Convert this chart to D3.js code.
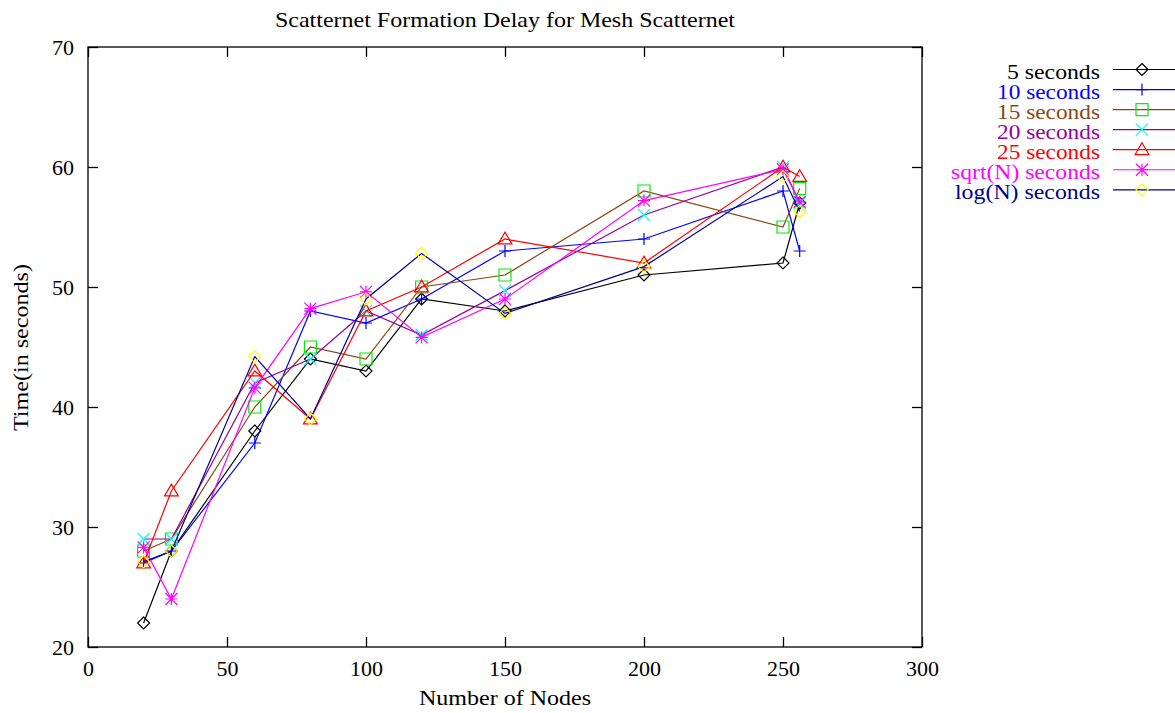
<!DOCTYPE html>
<html>
<head>
<meta charset="utf-8">
<script src="https://cdn.jsdelivr.net/npm/d3@7"></script>
<style>
  html, body { margin: 0; padding: 0; background: #fff; }
  svg { display: block; font-family: "Liberation Serif", "Times New Roman", serif; }
</style>
</head>
<body>
<svg id="chart" width="1175" height="713"></svg>
<script>
const title = "Scatternet Formation Delay for Mesh Scatternet";
const xLabel = "Number of Nodes";
const yLabel = "Time(in seconds)";
const nodes = [20, 30, 60, 80, 100, 120, 150, 200, 250, 256];
const xTicks = [0, 50, 100, 150, 200, 250, 300];
const yTicks = [20, 30, 40, 50, 60, 70];
const seriesNames = ["5 seconds", "10 seconds", "15 seconds", "20 seconds", "25 seconds", "sqrt(N) seconds", "log(N) seconds"];
const s5    = [22, 28, 38, 44, 43, 49, 48, 51, 52, 57];
const s10   = [27, 28, 37, 48, 47, 49, 53, 54, 58, 53];
const s15   = [28, 29, 40, 45, 44, 50, 51, 58, 55, 58.2];
const s20   = [29, 29, 42, 44, 48, 46, 49.7, 56, 60, 57];
const s25   = [27, 33, 43, 39, 48, 50, 54, 52, 60, 59.2];
const sSqrt = [28.3, 24, 41.6, 48.2, 49.6, 45.8, 49, 57.2, 59.8, 57.1];
const sLog  = [27.1, 28, 44.2, 39, 49, 52.8, 47.8, 51.7, 59.2, 56.3];
const seriesValues = [s5, s10, s15, s20, s25, sSqrt, sLog];
const lineColors  = ["#000000", "#0000ff", "#8b4513", "#9400a0", "#ff0000", "#ff00ff", "#000090"];
const pointColors = ["#000000", "#0000ff", "#00ee00", "#00ffff", "#ff0000", "#ff00ff", "#ffff00"];
const pointTypes  = ["diamond", "plus", "square", "cross", "triangle", "star", "diamond"];

const svg = d3.select("#chart");
const L = 88, R = 922, T = 47, B = 647;
const x = d3.scaleLinear().domain([0, 300]).range([L, R]);
const y = d3.scaleLinear().domain([20, 70]).range([B, T]);
const font = "Liberation Serif, Times New Roman, serif";

function fitText(sel, w) {
  sel.attr("textLength", w).attr("lengthAdjust", "spacingAndGlyphs");
  return sel;
}

function markerPath(type, s) {
  const p = d3.path();
  if (type === "diamond") {
    p.moveTo(0, -s); p.lineTo(s, 0); p.lineTo(0, s); p.lineTo(-s, 0); p.closePath();
  } else if (type === "plus") {
    p.moveTo(-s, 0); p.lineTo(s, 0); p.moveTo(0, -s); p.lineTo(0, s);
  } else if (type === "square") {
    p.rect(-s, -s, 2 * s, 2 * s);
  } else if (type === "cross") {
    p.moveTo(-s, -s); p.lineTo(s, s); p.moveTo(-s, s); p.lineTo(s, -s);
  } else if (type === "triangle") {
    const h = s * 1.15;
    p.moveTo(0, -h); p.lineTo(h, h * 0.7); p.lineTo(-h, h * 0.7); p.closePath();
  } else if (type === "star") {
    p.moveTo(-s, 0); p.lineTo(s, 0); p.moveTo(0, -s); p.lineTo(0, s);
    p.moveTo(-s, -s); p.lineTo(s, s); p.moveTo(-s, s); p.lineTo(s, -s);
  }
  return p.toString();
}

// frame
svg.append("rect").attr("x", L).attr("y", T).attr("width", R - L).attr("height", B - T)
  .attr("fill", "none").attr("stroke", "#000").attr("stroke-width", 1.3);

// axes (ticks inward, mirrored)
const ax = svg.append("g").attr("transform", `translate(0,${B})`)
  .call(d3.axisBottom(x).tickValues(xTicks).tickSizeInner(-10).tickSizeOuter(0).tickPadding(13));
const axTop = svg.append("g").attr("transform", `translate(0,${T})`)
  .call(d3.axisTop(x).tickValues(xTicks).tickSizeInner(-10).tickSizeOuter(0).tickFormat(""));
const ay = svg.append("g").attr("transform", `translate(${L},0)`)
  .call(d3.axisLeft(y).tickValues(yTicks).tickSizeInner(-10).tickSizeOuter(0).tickPadding(14));
const ayR = svg.append("g").attr("transform", `translate(${R},0)`)
  .call(d3.axisRight(y).tickValues(yTicks).tickSizeInner(-10).tickSizeOuter(0).tickFormat(""));
[ax, axTop, ay, ayR].forEach(g => {
  g.select(".domain").remove();
  g.selectAll("line").attr("stroke", "#000").attr("stroke-width", 1.3);
  g.selectAll("text").attr("font-family", font).attr("font-size", 22).attr("fill", "#000");
});

// title and labels
fitText(svg.append("text").attr("x", 505).attr("y", 27).attr("text-anchor", "middle")
  .attr("font-family", font).attr("font-size", 22).text(title), 460);
fitText(svg.append("text").attr("x", 505).attr("y", 705).attr("text-anchor", "middle")
  .attr("font-family", font).attr("font-size", 22).text(xLabel), 172);
fitText(svg.append("text").attr("transform", `translate(28,${347.5}) rotate(-90)`).attr("text-anchor", "middle")
  .attr("font-family", font).attr("font-size", 22).text(yLabel), 167);

// series
const line = d3.line().x((d, i) => x(nodes[i])).y(d => y(d));
seriesValues.forEach((vals, k) => {
  const g = svg.append("g");
  g.append("path").attr("d", line(vals)).attr("fill", "none")
    .attr("stroke", lineColors[k]).attr("stroke-width", 1.2);
  g.selectAll("path.pt").data(vals).enter().append("path").attr("class", "pt")
    .attr("transform", (d, i) => `translate(${x(nodes[i])},${y(d)})`)
    .attr("d", markerPath(pointTypes[k], 6))
    .attr("fill", "none").attr("stroke", pointColors[k]).attr("stroke-width", 1.2);
});

// legend
const legendWidths = [93, 103, 103, 103, 103, 149, 145];
seriesNames.forEach((name, k) => {
  const cy = 69.5 + k * 20.05;
  fitText(svg.append("text").attr("x", 1100).attr("y", cy + 9).attr("text-anchor", "end")
    .attr("font-family", font).attr("font-size", 21).attr("fill", lineColors[k]).text(name), legendWidths[k]);
  svg.append("line").attr("x1", 1113).attr("x2", 1175).attr("y1", cy).attr("y2", cy)
    .attr("stroke", lineColors[k]).attr("stroke-width", 1.2);
  svg.append("path").attr("transform", `translate(1142,${cy})`).attr("d", markerPath(pointTypes[k], 6))
    .attr("fill", "none").attr("stroke", pointColors[k]).attr("stroke-width", 1.2);
});
</script>
</body>
</html>
